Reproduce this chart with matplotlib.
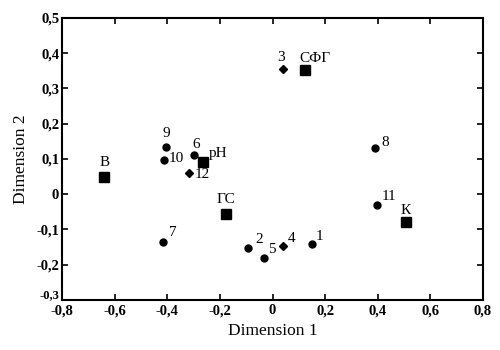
import matplotlib

matplotlib.use("Agg")
import matplotlib.pyplot as plt
from matplotlib.ticker import FuncFormatter, MultipleLocator

plt.rcParams["font.family"] = ["Liberation Serif", "DejaVu Serif"]

# objects (numbered samples)
obj_labels = ["1", "2", "3", "4", "5", "6", "7", "8", "9", "10", "11", "12"]
obj_x = [0.150, -0.093, 0.040, 0.040, -0.032, -0.298, -0.416, 0.390, -0.405, -0.412, 0.397, -0.317]
obj_y = [-0.141, -0.152, 0.355, -0.147, -0.181, 0.111, -0.135, 0.131, 0.134, 0.097, -0.030, 0.060]
obj_marker = ["o", "o", "D", "D", "o", "o", "o", "o", "o", "o", "o", "D"]
obj_offset = [(4, 7), (7, 8), (-2, 11), (5, 7), (4, 8), (2, 11), (6, 9),
              (6, 5), (0, 13), (5, 1), (5, 8), (6, -1)]
obj_ha = ["left", "left", "center", "left", "left", "center", "left",
          "left", "center", "left", "left", "left"]

# variables (squares)
var_labels = ["СФГ", "pH", "В", "ГС", "К"]
var_x = [0.124, -0.264, -0.640, -0.177, 0.507]
var_y = [0.352, 0.091, 0.049, -0.056, -0.079]
var_offset = [(10, 12), (6, 9), (0, 14), (0, 14), (0, 12)]
var_ha = ["center", "left", "center", "center", "center"]

xmin, xmax = -0.8, 0.8
ymin, ymax = -0.3, 0.5

fig = plt.figure(figsize=(5, 3.5), dpi=100)
ax = fig.add_axes([0.124, 0.143, 0.842, 0.806])

for x, y, m, lab, off, ha in zip(obj_x, obj_y, obj_marker, obj_labels, obj_offset, obj_ha):
    ms = 4.5 if m == "D" else 5
    ax.plot(x, y, marker=m, color="black", markersize=ms, linestyle="none")
    ax.annotate(lab, (x, y), xytext=off, textcoords="offset pixels",
                ha=ha, va="center", fontsize=11)

for x, y, lab, off, ha in zip(var_x, var_y, var_labels, var_offset, var_ha):
    ax.plot(x, y, marker="s", color="black", markersize=6.5, linestyle="none")
    ax.annotate(lab, (x, y), xytext=off, textcoords="offset pixels",
                ha=ha, va="center", fontsize=11)

ax.set_xlim(xmin, xmax)
ax.set_ylim(ymin, ymax)
ax.xaxis.set_major_locator(MultipleLocator(0.2))
ax.yaxis.set_major_locator(MultipleLocator(0.1))


def comma(v, pos):
    if abs(v) < 1e-9:
        return "0"
    return f"{v:.1f}".replace(".", ",")


def comma_y(v, pos):
    # bottom label is drawn separately, lifted off the corner
    if abs(v - ymin) < 1e-9:
        return ""
    return comma(v, pos)


ax.xaxis.set_major_formatter(FuncFormatter(comma))
ax.yaxis.set_major_formatter(FuncFormatter(comma_y))
ax.tick_params(direction="in", top=True, right=True, length=4, width=1.2,
               labelsize=10.5)
ax.tick_params(axis="x", pad=3)
ax.tick_params(axis="y", pad=2)
for lbl in ax.get_xticklabels() + ax.get_yticklabels():
    lbl.set_fontweight("bold")
ax.annotate(comma(ymin, 0), xy=(0, 0), xycoords="axes fraction", xytext=(-3, -1),
            textcoords="offset pixels", ha="right", va="bottom",
            fontsize=9, fontweight="bold")
for s in ax.spines.values():
    s.set_linewidth(1.5)

ax.set_xlabel("Dimension 1", fontsize=12.5, labelpad=4)
ax.set_ylabel("Dimension 2", fontsize=12.5, labelpad=5)

fig.savefig("out.png", dpi=100)
